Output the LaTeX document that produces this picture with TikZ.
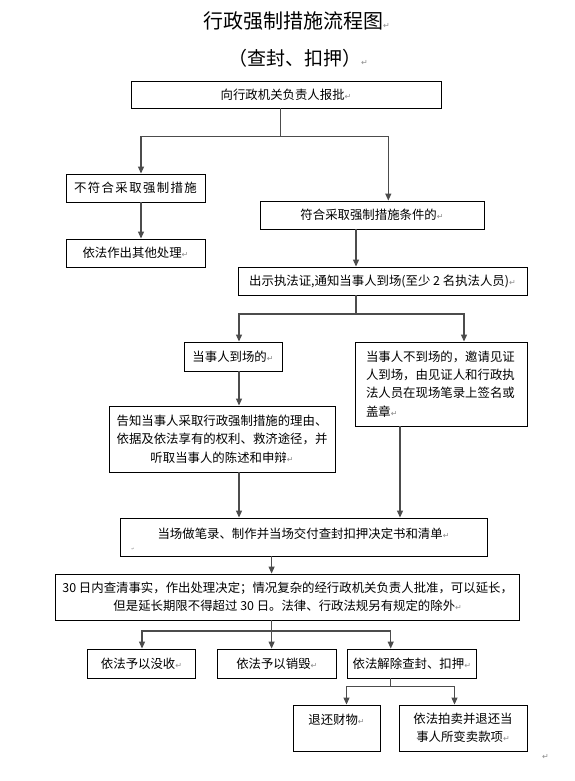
\documentclass[tikz,border=0pt]{standalone}
\usepackage{fontspec}
\setmainfont{Noto Sans CJK SC}
\newfontfamily\arrowglyphfont{DejaVu Sans}
\usetikzlibrary{arrows.meta,calc}
\newcommand\retmark{{\arrowglyphfont\fontsize{8}{8}\selectfont\textcolor{black!45}{↵}}}
\newcommand\tinyret{{\arrowglyphfont\fontsize{4}{4}\selectfont\textcolor{black!45}{↵}}}
\newcommand\lsp{\hspace{1.4pt}}
\begin{document}
\begin{tikzpicture}[x=1pt,y=-1pt,
  box/.style={draw=black,line width=0.9pt,inner sep=0pt,font=\fontsize{12.4}{18.4}\selectfont},
  plain/.style={inner sep=0pt,font=\fontsize{12.4}{18.4}\selectfont},
  conn/.style={draw=black!70,line width=1.1pt},
  arr/.style={conn,-{Triangle[width=6pt,length=7pt]}},
  ttl/.style={inner sep=0pt,anchor=west}
]
\useasboundingbox (0,0) rectangle (575,781);
\fill[white] (0,0) rectangle (575,781);

% titles
\node[ttl,font=\fontsize{20}{24}\selectfont] (T1) at (203,21) {行政强制措施流程图\retmark};
\node[ttl,font=\fontsize{19}{23}\selectfont] (T2) at (228,58.5) {（查封、扣押）\retmark};

% boxes
\node[box,minimum width=310pt,minimum height=27pt] (A) at (286,94.5) {向行政机关负责人报批\retmark};
\node[box,minimum width=139pt,minimum height=28pt] (B) at (135.5,188) {不\lsp 符\lsp 合\lsp 采\lsp 取\lsp 强\lsp 制\lsp 措\lsp 施};
\node[box,minimum width=224pt,minimum height=28pt] (C) at (372,215) {符合采取强制措施条件的\retmark};
\node[box,minimum width=139pt,minimum height=28pt] (D) at (135.5,253) {依法作出其他处理\retmark};
\node[box,minimum width=289pt,minimum height=28pt] (E) at (382.5,281) {出示执法证,通知当事人到场(至少 2 名执法人员)\retmark};
\node[box,minimum width=98pt,minimum height=29pt] (F) at (233,356.5) {当事人到场的\retmark};
\node[box,minimum width=172pt,minimum height=84pt,align=left,text width=150pt] (G) at (441,384)
  {当事人不到场的，邀请见证\\人到场，由见证人和行政执\\法人员在现场笔录上签名或\\盖章\retmark};
\node[box,minimum width=226pt,minimum height=66pt,align=center] (H) at (222,439)
  {告知当事人采取行政强制措施的理由、\\依据及依法享有的权利、救济途径，并\\听取当事人的陈述和申辩\retmark};
\node[box,minimum width=367pt,minimum height=38pt] (I) at (303.5,537) {};
\node[plain,yshift=3pt] (Itxt) at (I.center) {当场做笔录、制作并当场交付查封扣押决定书和清单\retmark};
\node[inner sep=0pt] (Imark) at (133,549) {\tinyret};
\node[box,minimum width=464pt,minimum height=46pt,align=center] (J) at (287.7,597)
  {30 日内查清事实，作出处理决定；情况复杂的经行政机关负责人批准，可以延长，\\但是延长期限不得超过 30 日。法律、行政法规另有规定的除外\retmark};
\node[box,minimum width=108pt,minimum height=29pt] (K) at (141.5,663.5) {依法予以没收\retmark};
\node[box,minimum width=118.5pt,minimum height=29pt] (L) at (276.8,663.5) {依法予以销毁\retmark};
\node[box,minimum width=129.6pt,minimum height=29pt] (M) at (411.8,663.5) {依法解除查封、扣押\retmark};
\node[box,minimum width=87pt,minimum height=46pt,align=center] (N) at (336.5,728) {退还财物\retmark\\\mbox{}};
\node[box,minimum width=128pt,minimum height=46pt,align=center] (O) at (463,728) {依法拍卖并退还当\\事人所变卖款项\retmark};
\node[inner sep=0pt] (endmark) at (545.5,757) {\retmark};

% junction coordinates
\coordinate (j1) at (280.7,136.7);
\coordinate (j1L) at (141,136.7);
\coordinate (j1R) at (388.3,136.7);
\coordinate (cx) at (356,0);
\coordinate (j2) at (356,314);
\coordinate (j2L) at (239,314);
\coordinate (j2R) at (464,314);
\coordinate (gx) at (400,0);
\coordinate (ix) at (271.6,0);
\coordinate (j3) at (271.6,631);
\coordinate (j3L) at (142,631);
\coordinate (j3R) at (390.7,631);
\coordinate (j4) at (390.7,686.7);
\coordinate (j4L) at (346.5,686.7);
\coordinate (j4R) at (454.5,686.7);

% connectors
\draw[conn] (A.south -| j1) -- (j1);
\draw[arr] (j1) -- (j1L) -- (j1L |- B.north);
\draw[arr] (j1) -- (j1R) -- (j1R |- C.north);
\draw[arr] (B.south -| j1L) -- (D.north -| j1L);
\draw[arr] (C.south -| cx) -- (E.north -| cx);
\draw[conn] (E.south -| j2) -- (j2);
\draw[arr] (j2) -- (j2L) -- (j2L |- F.north);
\draw[arr] (j2) -- (j2R) -- (j2R |- G.north);
\draw[arr] (F.south -| j2L) -- (H.north -| j2L);
\draw[arr] (H.south -| j2L) -- (I.north -| j2L);
\draw[arr] (G.south -| gx) -- (I.north -| gx);
\draw[arr] (I.south -| ix) -- (J.north -| ix);
\draw[arr] (J.south -| j3) -- (L.north -| j3);
\draw[arr] (j3) -- (j3L) -- (j3L |- K.north);
\draw[arr] (j3) -- (j3R) -- (j3R |- M.north);
\draw[conn] (M.south -| j4) -- (j4);
\draw[arr] (j4) -- (j4L) -- (j4L |- N.north);
\draw[arr] (j4) -- (j4R) -- (j4R |- O.north);
\end{tikzpicture}
\end{document}
